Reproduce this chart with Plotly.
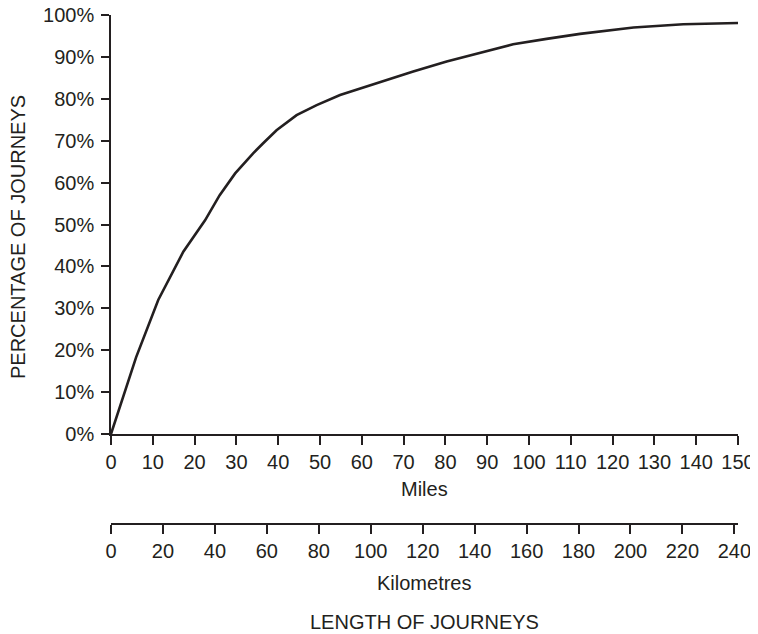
import plotly.graph_objects as go

miles = [0, 6, 11.3, 17.3, 22.5, 26, 29.7, 34, 36.4, 39.6, 44.4, 49.2, 54.8, 60, 64.4,
         72.3, 80.3, 88.3, 96.2, 104.2, 112.2, 125, 136.9, 150]
pct = [0, 18.3, 32, 43.5, 51, 57, 62.2, 67, 69.4, 72.5, 76.1, 78.5, 80.9, 82.6, 84.1,
       86.5, 88.9, 90.9, 93, 94.3, 95.5, 97, 97.8, 98.1]

mile_ticks = list(range(0, 151, 10))
km_ticks = list(range(0, 241, 20))
pct_ticks = list(range(0, 101, 10))
pct_labels = [f"{p}%" for p in pct_ticks]

INK = "#231f20"
FONT = "Liberation Sans, Arial, sans-serif"

OFF = 8  # page body margin
W, H = 758 - OFF, 634 - OFF
L, R, T, B = 111 - OFF, 20, 15 - OFF, 110
ph = H - T - B
pw = W - L - R
ydom0 = 90 / ph

fig = go.Figure()
fig.add_trace(go.Scatter(x=miles, y=pct, mode="lines",
                         line=dict(color=INK, width=2.6), showlegend=False,
                         hoverinfo="skip"))
fig.add_trace(go.Scatter(x=[0, 240], y=[None, None], xaxis="x2", yaxis="y",
                         mode="lines", showlegend=False, hoverinfo="skip"))

fig.update_layout(
    width=W, height=H,
    margin=dict(l=L, r=R, t=T, b=B, autoexpand=False),
    plot_bgcolor="white", paper_bgcolor="white",
    font=dict(family=FONT, size=20, color=INK),
    xaxis=dict(range=[0, 150], domain=[0, 1], anchor="y", automargin=False,
               tickvals=mile_ticks, ticks="outside", ticklen=9, tickwidth=1.5,
               tickcolor=INK, showline=True, linecolor=INK, linewidth=1.5,
               showgrid=False, zeroline=False, ticklabeloverflow="allow",
               tickfont=dict(size=20)),
    xaxis2=dict(range=[0, 150 * 1.609344], domain=[0, 1], anchor="free",
                position=0, overlaying="x", side="bottom", automargin=False,
                tickvals=km_ticks, ticks="outside", ticklen=9, tickwidth=2,
                tickcolor=INK, showline=True, linecolor=INK, linewidth=2,
                showgrid=False, zeroline=False, ticklabeloverflow="allow",
                tickfont=dict(size=20)),
    yaxis=dict(range=[0, 100], domain=[ydom0, 1], anchor="x", automargin=False,
               tickvals=pct_ticks, ticktext=pct_labels, ticks="outside",
               ticklen=8, tickwidth=1.5, tickcolor=INK, showline=True,
               linecolor=INK, linewidth=1.5, showgrid=False, zeroline=False,
               ticklabelstandoff=3, ticklabeloverflow="allow",
               tickfont=dict(size=20)),
)

def px_to_paper(xp, yp):
    xp -= OFF
    yp -= OFF
    return (xp - L) / pw, (H - B - yp) / ph

ann = []
x, y = px_to_paper(424, 489)
ann.append(dict(text="Miles", x=x, y=y))
x, y = px_to_paper(424, 583)
ann.append(dict(text="Kilometres", x=x, y=y))
x, y = px_to_paper(424, 622)
ann.append(dict(text="LENGTH OF JOURNEYS", x=x, y=y))
x, y = px_to_paper(18, 237)
ann.append(dict(text="PERCENTAGE OF JOURNEYS", x=x, y=y, textangle=-90))
for a in ann:
    a.update(xref="paper", yref="paper", xanchor="center", yanchor="middle",
             showarrow=False, font=dict(family=FONT, size=20, color=INK))
fig.update_layout(annotations=ann)

fig.write_html("out.html")
